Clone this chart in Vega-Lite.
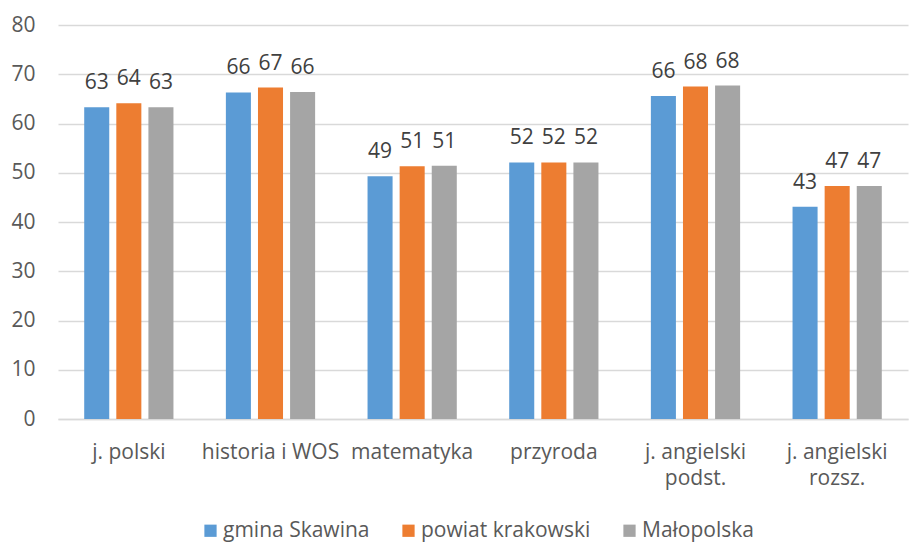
{
  "$schema": "https://vega.github.io/schema/vega-lite/v6.json",
  "width": 850,
  "height": 394,
  "autosize": {"type": "none"},
  "padding": {"left": 58, "top": 25, "right": 4, "bottom": 123},
  "background": "white",
  "config": {
    "view": {"stroke": null},
    "font": "Open Sans, sans-serif"
  },
  "data": {
    "values": [
      {"przedmiot": "j. polski", "seria": "gmina Skawina", "wynik": 63.3, "etykieta": "63"},
      {"przedmiot": "j. polski", "seria": "powiat krakowski", "wynik": 64.1, "etykieta": "64"},
      {"przedmiot": "j. polski", "seria": "Małopolska", "wynik": 63.3, "etykieta": "63"},
      {"przedmiot": "historia i WOS", "seria": "gmina Skawina", "wynik": 66.3, "etykieta": "66"},
      {"przedmiot": "historia i WOS", "seria": "powiat krakowski", "wynik": 67.3, "etykieta": "67"},
      {"przedmiot": "historia i WOS", "seria": "Małopolska", "wynik": 66.4, "etykieta": "66"},
      {"przedmiot": "matematyka", "seria": "gmina Skawina", "wynik": 49.3, "etykieta": "49"},
      {"przedmiot": "matematyka", "seria": "powiat krakowski", "wynik": 51.3, "etykieta": "51"},
      {"przedmiot": "matematyka", "seria": "Małopolska", "wynik": 51.4, "etykieta": "51"},
      {"przedmiot": "przyroda", "seria": "gmina Skawina", "wynik": 52.1, "etykieta": "52"},
      {"przedmiot": "przyroda", "seria": "powiat krakowski", "wynik": 52.1, "etykieta": "52"},
      {"przedmiot": "przyroda", "seria": "Małopolska", "wynik": 52.1, "etykieta": "52"},
      {"przedmiot": "j. angielski podst.", "seria": "gmina Skawina", "wynik": 65.6, "etykieta": "66"},
      {"przedmiot": "j. angielski podst.", "seria": "powiat krakowski", "wynik": 67.5, "etykieta": "68"},
      {"przedmiot": "j. angielski podst.", "seria": "Małopolska", "wynik": 67.7, "etykieta": "68"},
      {"przedmiot": "j. angielski rozsz.", "seria": "gmina Skawina", "wynik": 43.1, "etykieta": "43"},
      {"przedmiot": "j. angielski rozsz.", "seria": "powiat krakowski", "wynik": 47.3, "etykieta": "47"},
      {"przedmiot": "j. angielski rozsz.", "seria": "Małopolska", "wynik": 47.3, "etykieta": "47"}
    ]
  },
  "encoding": {
    "x": {
      "field": "przedmiot",
      "type": "nominal",
      "sort": null,
      "scale": {"paddingInner": 0.37, "paddingOuter": 0.185},
      "axis": {
        "title": null,
        "labelAngle": 0,
        "labelFontSize": 21,
        "labelColor": "#595959",
        "labelPadding": 22,
        "labelLineHeight": 26,
        "labelBaseline": "top",
        "labelLimit": 0,
        "ticks": false,
        "domain": true,
        "domainColor": "#d9d9d9",
        "domainWidth": 1.5,
        "labelExpr": "test(/angielski /, datum.label) ? [slice(datum.label, 0, 12), slice(datum.label, 13)] : datum.label"
      }
    },
    "xOffset": {
      "field": "seria",
      "type": "nominal",
      "sort": ["gmina Skawina", "powiat krakowski", "Małopolska"],
      "scale": {"paddingInner": 0.22, "paddingOuter": 0}
    },
    "y": {
      "field": "wynik",
      "type": "quantitative",
      "scale": {"domain": [0, 80], "nice": false},
      "axis": {
        "title": null,
        "values": [0, 10, 20, 30, 40, 50, 60, 70, 80],
        "labelFontSize": 21,
        "labelColor": "#595959",
        "labelPadding": 23,
        "ticks": false,
        "domain": false,
        "gridColor": "#d9d9d9",
        "gridWidth": 1.5
      }
    }
  },
  "layer": [
    {
      "mark": {"type": "bar"},
      "encoding": {
        "color": {
          "field": "seria",
          "type": "nominal",
          "sort": ["gmina Skawina", "powiat krakowski", "Małopolska"],
          "scale": {"domain": ["gmina Skawina", "powiat krakowski", "Małopolska"], "range": ["#5B9BD5", "#ED7D31", "#A5A5A5"]},
          "legend": {
            "title": null,
            "orient": "none",
            "legendX": 142,
            "legendY": 495,
            "direction": "horizontal",
            "symbolType": "square",
            "symbolSize": 150,
            "symbolStrokeWidth": 0,
            "labelFontSize": 21,
            "labelColor": "#595959",
            "labelOffset": 2,
            "labelLimit": 0,
            "columnPadding": 28
          }
        }
      }
    },
    {
      "mark": {"type": "text", "baseline": "alphabetic", "dy": -18, "fontSize": 21, "color": "#404040"},
      "encoding": {
        "text": {"field": "etykieta", "type": "nominal"}
      }
    }
  ]
}
